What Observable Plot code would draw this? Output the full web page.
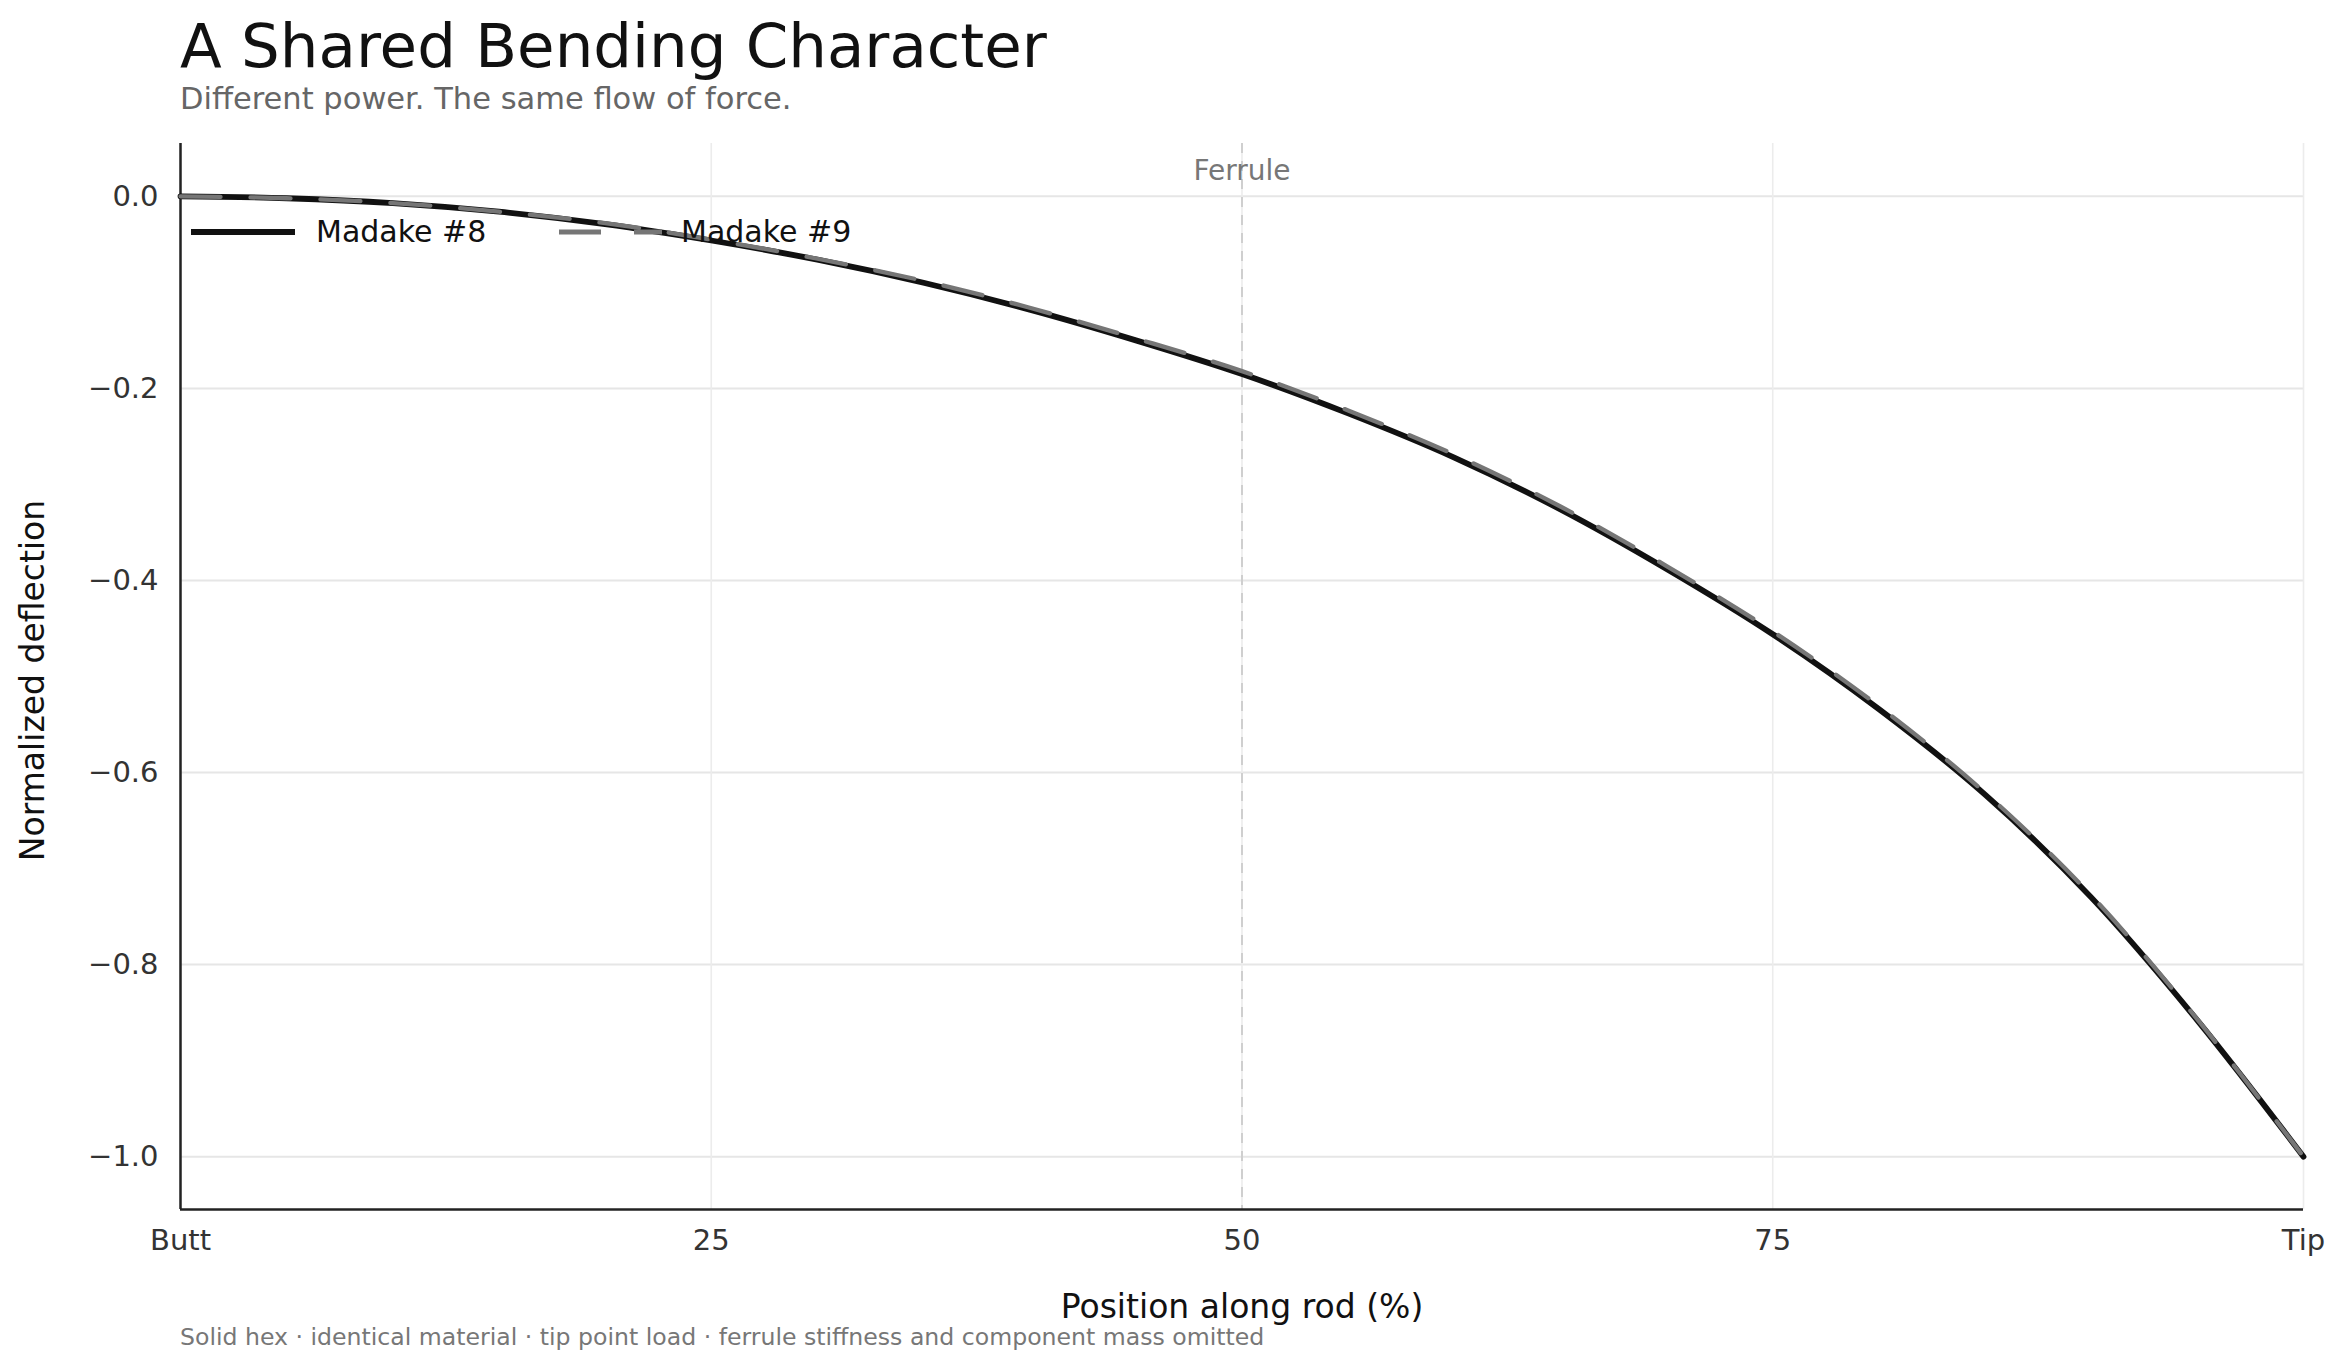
<!DOCTYPE html>
<html>
<head>
<meta charset="utf-8">
<script src="https://cdn.jsdelivr.net/npm/d3@7"></script>
<script src="https://cdn.jsdelivr.net/npm/@observablehq/plot@0.6"></script>
<style>
  html, body { margin: 0; padding: 0; background: #fff; }
  body { width: 2346px; height: 1371px; position: relative; overflow: hidden; font-family: "DejaVu Sans", sans-serif; }
  .abs { position: absolute; white-space: nowrap; line-height: 1; }
  #title { left: 180px; top: 15.4px; font-size: 61px; color: #111; }
  #subtitle { left: 180px; top: 84.2px; font-size: 30.5px; color: #666; }
  #caption { left: 180px; top: 1326px; font-size: 23.6px; color: #777; }
  #chart { position: absolute; left: 0; top: 120px; }
  #legend { position: absolute; left: 180px; top: 200px; }
</style>
</head>
<body>
<div id="title" class="abs">A Shared Bending Character</div>
<div id="subtitle" class="abs">Different power. The same flow of force.</div>
<div id="chart"></div>
<svg id="legend" width="900" height="64"></svg>
<div id="caption" class="abs">Solid hex · identical material · tip point load · ferrule stiffness and component mass omitted</div>
<script>
// ---- data ----
const positions = [0, 5, 10, 15, 20, 25, 30, 35, 40, 45, 50, 55, 60, 65, 70, 75, 80, 85, 90, 95, 100];
const madake8 = [0, -0.002, -0.007, -0.016, -0.029, -0.046, -0.066, -0.090, -0.118, -0.150, -0.185, -0.226, -0.272, -0.326, -0.388, -0.456, -0.534, -0.623, -0.730, -0.858, -1.0];
const madake9 = [0, -0.002, -0.007, -0.016, -0.028, -0.045, -0.065, -0.088, -0.116, -0.148, -0.182, -0.223, -0.269, -0.323, -0.385, -0.453, -0.531, -0.621, -0.728, -0.857, -1.0];
const seriesNames = ["Madake #8", "Madake #9"];
const xTicks = [0, 25, 50, 75, 100];
const xTickLabels = ["Butt", "25", "50", "75", "Tip"];
const yTicks = [0, -0.2, -0.4, -0.6, -0.8, -1.0];
const ferrule = [50];
const ferruleLabel = ["Ferrule"];
const xLabel = "Position along rod (%)";
const yLabel = "Normalized deflection";
const xDomain = [0, 100];
const yDomain = [-1.055, 0.055];

const rows8 = positions.map((x, i) => ({x, y: madake8[i], series: seriesNames[0]}));
const rows9 = positions.map((x, i) => ({x, y: madake9[i], series: seriesNames[1]}));

const fmtY = d => (Math.abs(d) < 1e-9 ? "0.0" : d.toFixed(1).replace("-", "\u2212"));

const chart = Plot.plot({
  width: 2346,
  height: 1235,
  marginTop: 23,
  marginBottom: 146,
  marginLeft: 180,
  marginRight: 43,
  style: {fontFamily: "DejaVu Sans, sans-serif", fontSize: "29px", color: "#333", background: "white", overflow: "visible"},
  x: {domain: xDomain},
  y: {domain: yDomain},
  marks: [
    Plot.gridY(yTicks, {stroke: "#e6e6e6", strokeOpacity: 1, strokeWidth: 2}),
    Plot.gridX(xTicks, {stroke: "#ececec", strokeOpacity: 1, strokeWidth: 1.6}),
    Plot.ruleX(ferrule, {x: d => d, stroke: "#cfcfcf", strokeWidth: 2, strokeDasharray: "10,8"}),
    Plot.text(ferrule, {x: d => d, text: (d, i) => ferruleLabel[i], frameAnchor: "top", lineAnchor: "bottom", textAnchor: "middle", dy: 36, fill: "#777", fontSize: 28}),
    Plot.axisY(yTicks, {tickSize: 0, tickPadding: 22, tickFormat: fmtY, label: null, fontSize: 29, color: "#333"}),
    Plot.axisX(xTicks, {tickSize: 0, tickPadding: 20, tickFormat: d => xTickLabels[xTicks.indexOf(d)], label: null, fontSize: 29, color: "#333"}),
    Plot.ruleX([xDomain[0]], {stroke: "#222", strokeWidth: 2.5}),
    Plot.ruleY([yDomain[0]], {stroke: "#222", strokeWidth: 2.5}),
    Plot.line(rows8, {x: "x", y: "y", stroke: "#111", strokeWidth: 5.8, curve: "catmull-rom"}),
    Plot.line(rows9, {x: "x", y: "y", stroke: "#767676", strokeWidth: 4.3, strokeDasharray: "40,30", strokeLinecap: "round", curve: "catmull-rom"}),
    Plot.text([xLabel], {frameAnchor: "bottom", lineAnchor: "bottom", textAnchor: "middle", dy: 108, fontSize: 33, fill: "#111"}),
    Plot.text([yLabel], {frameAnchor: "left", rotate: -90, textAnchor: "middle", lineAnchor: "middle", dx: -147, dy: 4, fontSize: 33, fill: "#111"})
  ]
});
document.getElementById("chart").appendChild(chart);

// ---- legend (upper-left, inside the plot area) ----
const leg = d3.select("#legend");
const legendItems = [
  {name: seriesNames[0], x1: 11, x2: 115, tx: 136, stroke: "#111", width: 6, dash: null},
  {name: seriesNames[1], x1: 379, x2: 482, tx: 501, stroke: "#767676", width: 5, dash: "42,33"}
];
for (const it of legendItems) {
  const l = leg.append("line").attr("x1", it.x1).attr("x2", it.x2).attr("y1", 32).attr("y2", 32)
    .attr("stroke", it.stroke).attr("stroke-width", it.width);
  if (it.dash) l.attr("stroke-dasharray", it.dash);
  leg.append("text").attr("x", it.tx).attr("y", 42).attr("font-family", "DejaVu Sans, sans-serif")
    .attr("font-size", 30).attr("fill", "#111").text(it.name);
}
</script>
</body>
</html>
